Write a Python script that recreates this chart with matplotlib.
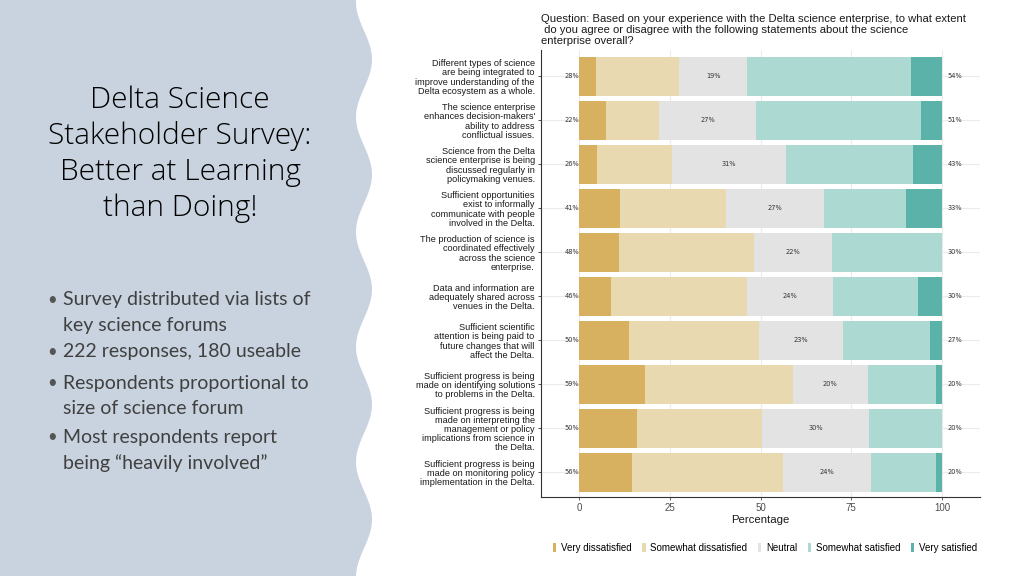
import numpy as np
import matplotlib
matplotlib.use('Agg')
import matplotlib.pyplot as plt
from matplotlib.patches import Patch

# survey statements (top to bottom)
statements = [
    "Different types of science\nare being integrated to\nimprove understanding of the\nDelta ecosystem as a whole.",
    "The science enterprise\nenhances decision-makers'\nability to address\nconflictual issues.",
    "Science from the Delta\nscience enterprise is being\ndiscussed regularly in\npolicymaking venues.",
    "Sufficient opportunities\nexist to informally\ncommunicate with people\ninvolved in the Delta.",
    "The production of science is\ncoordinated effectively\nacross the science\nenterprise.",
    "Data and information are\nadequately shared across\nvenues in the Delta.",
    "Sufficient scientific\nattention is being paid to\nfuture changes that will\naffect the Delta.",
    "Sufficient progress is being\nmade on identifying solutions\nto problems in the Delta.",
    "Sufficient progress is being\nmade on interpreting the\nmanagement or policy\nimplications from science in\nthe Delta.",
    "Sufficient progress is being\nmade on monitoring policy\nimplementation in the Delta.",
]

levels = ["Very dissatisfied", "Somewhat dissatisfied", "Neutral",
          "Somewhat satisfied", "Very satisfied"]

very_dissat = [4.7, 7.4, 4.9, 11.3, 10.9, 8.9, 13.7, 18.2, 16.0, 14.6]
some_dissat = [22.8, 14.7, 20.7, 29.2, 37.3, 37.4, 36.0, 40.8, 34.5, 41.6]
neutral = [18.9, 26.6, 31.3, 27.0, 21.5, 23.8, 23.1, 20.5, 29.5, 24.3]
some_sat = [45.0, 45.6, 35.1, 22.7, 30.3, 23.3, 24.0, 18.9, 20.0, 17.9]
very_sat = [8.6, 5.7, 8.0, 9.8, 0.0, 6.6, 3.2, 1.6, 0.0, 1.6]

low_labels = ["28%", "22%", "26%", "41%", "48%", "46%", "50%", "59%", "50%", "56%"]
mid_labels = ["19%", "27%", "31%", "27%", "22%", "24%", "23%", "20%", "30%", "24%"]
high_labels = ["54%", "51%", "43%", "33%", "30%", "30%", "27%", "20%", "20%", "20%"]

colors = ["#d7b060", "#e9d9b0", "#e3e3e3", "#acdad3", "#5ab2a8"]

slide_title = "Delta Science\nStakeholder Survey:\nBetter at Learning\nthan Doing!"
bullets = [
    ["Survey distributed via lists of", "key science forums"],
    ["222 responses, 180 useable"],
    ["Respondents proportional to", "size of science forum"],
    ["Most respondents report", "being \u201cheavily involved\u201d"],
]
bullet_y = [300, 352, 383, 437]
question = ("Question: Based on your experience with the Delta science enterprise, to what extent\n"
            " do you agree or disagree with the following statements about the science\n"
            "enterprise overall?")

fig = plt.figure(figsize=(10.24, 5.76), dpi=100)

# slide background with wavy panel on the left
bg = fig.add_axes([0, 0, 1, 1])
bg.set_xlim(0, 1024)
bg.set_ylim(576, 0)
bg.axis('off')
yy = np.linspace(0, 576, 600)
edge = 364 - 8 * np.cos(2 * np.pi * (yy - 2) / 115)
bg.fill_betweenx(yy, 0, edge, color="#c8d3df", lw=0)

bg.text(180, 154, slide_title, ha='center', va='center', fontsize=21.5,
        family='Open Sans', weight='light', color='#000000', linespacing=1.28)

for by, lines in zip(bullet_y, bullets):
    bg.text(47, by, "\u2022", ha='left', va='center', fontsize=12, family='Lato', color='#555555')
    for k, line in enumerate(lines):
        bg.text(63, by + k * 26, line, ha='left', va='center', fontsize=14,
                family='Lato', color='#404040')

# chart
ax = fig.add_axes([541 / 1024, 1 - 497 / 576, (980 - 541) / 1024, (497 - 50) / 576])
ypos = np.arange(len(statements))
series = [very_dissat, some_dissat, neutral, some_sat, very_sat]
left = np.zeros(len(statements))
for vals, c in zip(series, colors):
    ax.barh(ypos, vals, left=left, height=0.9, color=c, lw=0, zorder=2)
    left = left + np.array(vals)

ax.set_xlim(-10.5, 110.5)
ax.set_ylim(len(statements) - 0.44, -0.6)
ax.set_xticks([0, 25, 50, 75, 100])
ax.set_yticks(ypos)
ax.set_yticklabels(statements, fontsize=6.6, family='Liberation Sans', linespacing=1.02)
ax.tick_params(axis='x', labelsize=7, colors='#4d4d4d', length=2.5, width=0.6, pad=2)
ax.tick_params(axis='y', length=2.5, width=0.6, colors='#333333', labelcolor='#1a1a1a', pad=2)
for lab in ax.get_xticklabels():
    lab.set_family('Liberation Sans')
ax.grid(True, color='#ebebeb', lw=0.8, zorder=0)
ax.set_axisbelow(True)
for s in ['top', 'right']:
    ax.spines[s].set_visible(False)
for s in ['left', 'bottom']:
    ax.spines[s].set_color('#333333')
    ax.spines[s].set_linewidth(0.8)
ax.set_xlabel("Percentage", fontsize=8.2, family='Liberation Sans', color='#1a1a1a', labelpad=1)

mid_x = np.array(very_dissat) + np.array(some_dissat) + np.array(neutral) / 2
for i in range(len(statements)):
    ax.text(-2, i, low_labels[i], ha='center', va='center', fontsize=4.8, color='#333333', zorder=3)
    ax.text(mid_x[i], i, mid_labels[i], ha='center', va='center', fontsize=4.8, color='#333333', zorder=3)
    ax.text(103.5, i, high_labels[i], ha='center', va='center', fontsize=4.8, color='#333333', zorder=3)

fig.text(541 / 1024, 1 - 14 / 576, question, ha='left', va='top', fontsize=8.1,
         family='Liberation Sans', color='#1a1a1a', linespacing=1.15)

handles = [Patch(facecolor=c, edgecolor='none') for c in colors]
fig.legend(handles, levels, loc='center', bbox_to_anchor=(765 / 1024, 1 - 548 / 576),
           ncol=5, frameon=False, handlelength=0.35, handleheight=1.0, handletextpad=0.5,
           columnspacing=1.05, prop={'family': 'Liberation Sans', 'size': 7.05})

fig.savefig('out.png', dpi=100)
